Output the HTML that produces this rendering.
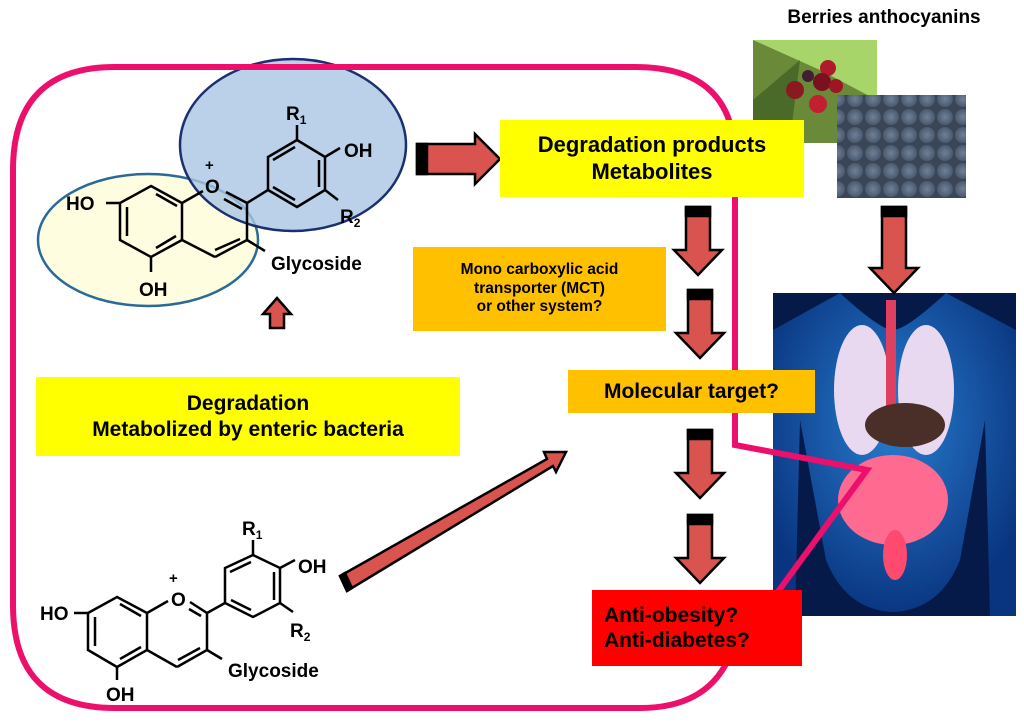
<!DOCTYPE html>
<html><head><meta charset="utf-8"><style>
body{margin:0;width:1024px;height:724px;background:#fff;overflow:hidden;position:relative;font-family:"Liberation Sans",Arial,sans-serif;font-weight:bold}
.b{position:absolute;display:flex;align-items:center;justify-content:center;text-align:center;line-height:1.2;color:#000}
svg{position:absolute;left:0;top:0}
</style></head><body>
<svg width="1024" height="724" viewBox="0 0 1024 724">
<defs>
<radialGradient id="bb" cx="50%" cy="50%" r="70%"><stop offset="0" stop-color="#6f8098"/><stop offset="1" stop-color="#3d4a5c"/></radialGradient>
<pattern id="blue" width="18" height="18" patternUnits="userSpaceOnUse"><rect width="18" height="18" fill="#3a4658"/><circle cx="9" cy="9" r="8" fill="url(#bb)"/></pattern>
<radialGradient id="body" cx="50%" cy="40%" r="60%"><stop offset="0" stop-color="#2f8fe8"/><stop offset="1" stop-color="#0a3a8a"/></radialGradient>
</defs>
<!-- ellipses -->
<ellipse cx="148" cy="240" rx="110" ry="66" fill="#fefde0" stroke="#2a6a9a" stroke-width="2.5"/>
<ellipse cx="293" cy="145" rx="113" ry="86" fill="#a9c5e3" fill-opacity="0.8" stroke="#1c2f6e" stroke-width="2.5"/>
<!-- top molecule -->
<g stroke="#000" stroke-width="2.5" fill="none">
<polygon points="151,186 182,203 182,240 151,257 120,240 120,203"/>
<line x1="156" y1="194" x2="177" y2="206"/><line x1="176" y1="236" x2="156" y2="248"/><line x1="127" y1="207" x2="127" y2="236"/>
<line x1="182" y1="203" x2="203" y2="191"/><line x1="226" y1="192" x2="247" y2="203"/><line x1="224" y1="199" x2="242" y2="209"/>
<line x1="247" y1="203" x2="247" y2="240"/><line x1="247" y1="240" x2="215" y2="257"/><line x1="240" y1="239" x2="215" y2="250"/><line x1="215" y1="257" x2="182" y2="240"/>
<line x1="247" y1="203" x2="268" y2="190"/>
<polygon points="268,190 268,157 297,140 325,157 325,190 297,207"/>
<line x1="273" y1="160" x2="295" y2="147"/><line x1="319" y1="160" x2="319" y2="187"/><line x1="295" y1="200" x2="273" y2="187"/>
<line x1="297" y1="140" x2="297" y2="125"/><line x1="325" y1="157" x2="340" y2="148"/><line x1="325" y1="190" x2="338" y2="200"/>
<line x1="120" y1="203" x2="106" y2="203"/><line x1="151" y1="257" x2="151" y2="272"/><line x1="247" y1="240" x2="265" y2="251"/>
</g>
<g font-family="Liberation Sans,Arial,sans-serif" font-weight="bold" font-size="19" fill="#000">
<text x="66" y="210">HO</text><text x="139" y="296">OH</text><text x="205" y="193">O</text><text x="205" y="170" font-size="15">+</text>
<text x="286" y="120">R<tspan font-size="12" dy="4">1</tspan></text><text x="344" y="157">OH</text><text x="340" y="223">R<tspan font-size="12" dy="4">2</tspan></text>
<text x="271" y="270">Glycoside</text>
</g>
<!-- bottom molecule -->
<g stroke="#000" stroke-width="2.5" fill="none">
<polygon points="117,597 147,613 147,650 117,667 88,650 88,613"/>
<line x1="120" y1="604" x2="141" y2="616"/><line x1="141" y1="647" x2="120" y2="659"/><line x1="95" y1="617" x2="95" y2="646"/>
<line x1="147" y1="613" x2="168" y2="601"/><line x1="190" y1="602" x2="207" y2="613"/><line x1="189" y1="609" x2="201" y2="616"/>
<line x1="207" y1="613" x2="207" y2="650"/><line x1="207" y1="650" x2="177" y2="667"/><line x1="200" y1="648" x2="178" y2="660"/><line x1="177" y1="667" x2="147" y2="650"/>
<line x1="207" y1="613" x2="225" y2="603"/>
<polygon points="225,603 225,568 253,555 280,568 280,603 253,617"/>
<line x1="230" y1="572" x2="251" y2="562"/><line x1="274" y1="572" x2="274" y2="600"/><line x1="251" y1="610" x2="231" y2="600"/>
<line x1="253" y1="555" x2="253" y2="540"/><line x1="280" y1="568" x2="295" y2="560"/><line x1="280" y1="603" x2="293" y2="612"/>
<line x1="88" y1="613" x2="74" y2="613"/><line x1="117" y1="667" x2="117" y2="680"/><line x1="207" y1="650" x2="222" y2="659"/>
</g>
<g font-family="Liberation Sans,Arial,sans-serif" font-weight="bold" font-size="19" fill="#000">
<text x="40" y="620">HO</text><text x="106" y="701">OH</text><text x="171" y="606">O</text><text x="169" y="583" font-size="15">+</text>
<text x="242" y="535">R<tspan font-size="12" dy="4">1</tspan></text><text x="298" y="573">OH</text><text x="290" y="637">R<tspan font-size="12" dy="4">2</tspan></text>
<text x="228" y="677">Glycoside</text>
</g>
<!-- berry images -->
<rect x="753" y="40" width="124" height="103" fill="#6a8a3a"/>
<path d="M753,40 L877,40 L877,100 L820,70 Z" fill="#a8d56a"/>
<path d="M753,100 L800,60 L790,140 L753,143Z" fill="#4a6a2a"/>
<circle cx="828" cy="68" r="8" fill="#b01a2a"/><circle cx="822" cy="82" r="9" fill="#7a1020"/><circle cx="836" cy="86" r="7" fill="#a01525"/><circle cx="795" cy="90" r="9" fill="#8a1a20"/><circle cx="818" cy="104" r="9" fill="#c02030"/><circle cx="808" cy="76" r="6" fill="#402030"/>
<rect x="837" y="95" width="129" height="103" fill="url(#blue)"/>
<!-- body image -->
<rect x="773" y="293" width="243" height="323" fill="#061a4a"/>
<path d="M840,293 Q880,330 893,330 Q906,330 946,293 L1016,330 L1016,616 L990,616 L985,420 L960,560 Q940,610 893,612 Q846,610 826,560 L800,420 L795,616 L773,616 L773,330 Z" fill="url(#body)" opacity="0.85"/>
<ellipse cx="862" cy="390" rx="28" ry="65" fill="#e8d8f0"/><ellipse cx="926" cy="390" rx="28" ry="65" fill="#e8d8f0"/>
<rect x="886" y="300" width="10" height="120" fill="#e04060"/>
<ellipse cx="905" cy="425" rx="40" ry="22" fill="#4a2e28"/>
<ellipse cx="893" cy="500" rx="55" ry="45" fill="#ff6a90"/>
<ellipse cx="895" cy="555" rx="12" ry="25" fill="#ff4a70"/>
<!-- pink boundary -->
<path d="M13,170 Q13,67 115,67 L635,67 Q735,67 735,160 L735,445 L867,470 L728,660 Q705,708 640,708 L115,708 Q13,708 13,605 Z" fill="none" stroke="#ec0f6b" stroke-width="6"/>
<!-- arrows -->
<g stroke="#000" stroke-width="2.5" fill="#d9534f">
<polygon points="417,144 475,144 475,134 500,159 475,184 475,174 417,174"/>
<rect x="417" y="144" width="10" height="30" fill="#000"/>
<polygon points="270,328 270,314 263,314 277,298 291,314 284,314 284,328"/>
<g id="da"><polygon points="686,207 710,207 710,250 722,250 698,275 674,250 686,250"/><rect x="686" y="207" width="24" height="9" fill="#000"/></g>
<use href="#da" transform="translate(2,83)"/>
<use href="#da" transform="translate(2,223)"/>
<use href="#da" transform="translate(2,308)"/>
<g transform="translate(196,0)"><polygon points="686,207 710,207 710,268 722,268 698,293 674,268 686,268"/><rect x="686" y="207" width="24" height="9" fill="#000"/></g>
<polygon points="340,576 547,459 544,452 566,452 556,472 553,466 347,591"/>
<polygon points="340,576 347,591 352,588 345,573" fill="#000"/>
</g>
</svg>
<div class="b" style="left:740px;top:4px;width:288px;height:28px;font-size:19px">Berries anthocyanins</div>
<div class="b" style="left:500px;top:120px;width:304px;height:77px;background:#ffff00;font-size:22px">Degradation products<br>Metabolites</div>
<div class="b" style="left:413px;top:247px;width:253px;height:84px;background:#ffc000;font-size:15.5px">Mono carboxylic acid<br>transporter (MCT)<br>or other system?</div>
<div class="b" style="left:568px;top:370px;width:247px;height:43px;background:#ffc000;font-size:21px">Molecular target?</div>
<div class="b" style="left:36px;top:377px;width:424px;height:79px;background:#ffff00;font-size:21px">Degradation<br>Metabolized by enteric bacteria</div>
<div class="b" style="left:592px;top:590px;width:210px;height:76px;background:#ff0000;font-size:21px;justify-content:flex-start;text-align:left;padding-left:12px;box-sizing:border-box">Anti-obesity?<br>Anti-diabetes?</div>
</body></html>
